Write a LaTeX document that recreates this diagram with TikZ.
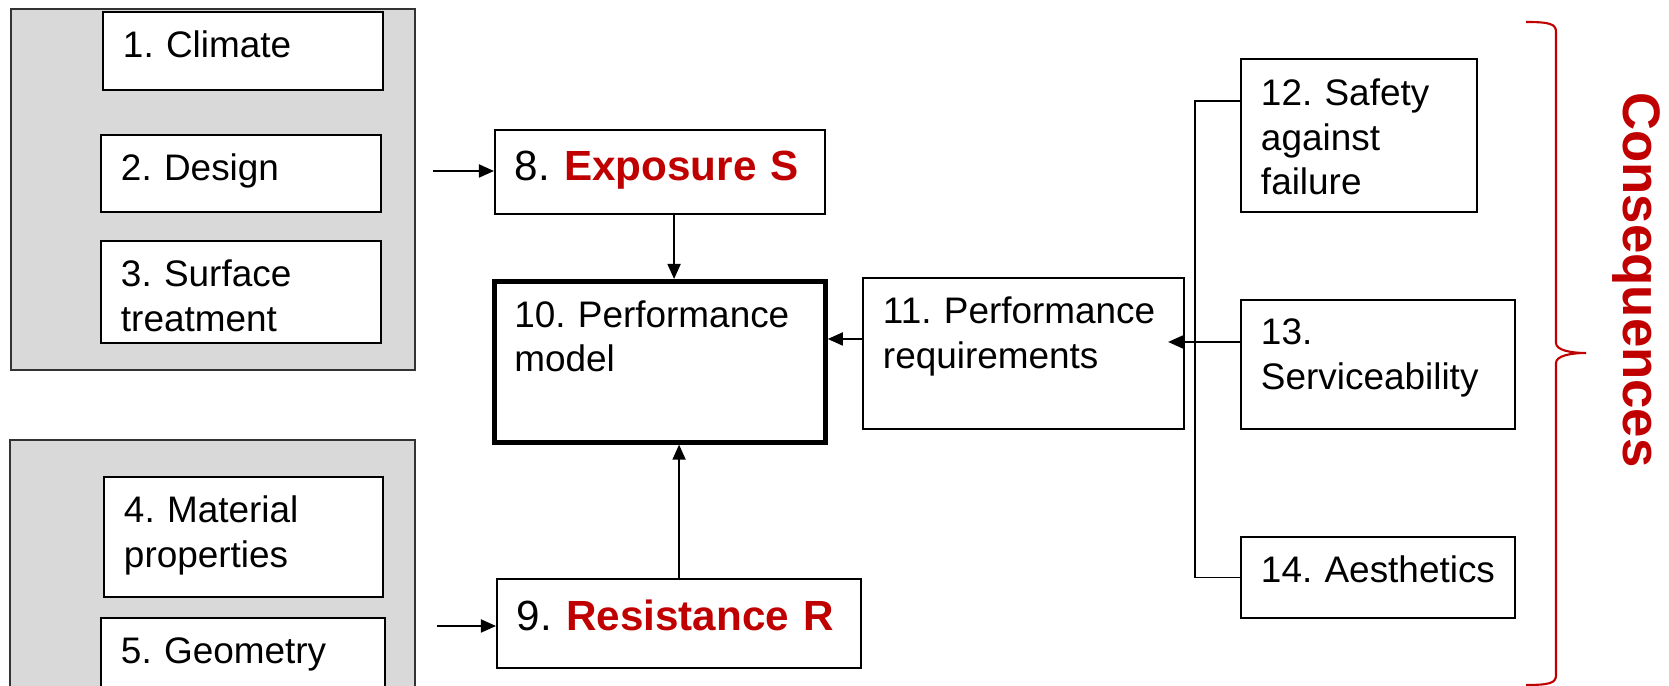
\documentclass[tikz,border=0pt]{standalone}
\usepackage{fontspec}
\setmainfont{Liberation Sans}
\usepackage{tikz}
\usetikzlibrary{arrows.meta, calc, positioning}
\usepackage{xcolor}
\definecolor{darkred}{HTML}{C00000}
\definecolor{panelgray}{HTML}{D9D9D9}
\frenchspacing
\hyphenpenalty=10000
\exhyphenpenalty=10000

\begin{document}
\begin{tikzpicture}[x=0.01cm, y=-0.01cm,
    box/.style={draw, line width=0.55pt, fill=white, anchor=north west, align=left,
        inner xsep=0.2cm, inner ysep=0pt, text height=0.46cm,
        font=\fontsize{10.5}{12.6}\selectfont},
    big/.style={font=\fontsize{12}{14.4}\selectfont},
    panel/.style={draw=black!80, line width=0.5pt, fill=panelgray},
    arr/.style={-{Triangle[length=1.5mm, width=1.3mm]}, line width=0.5pt}]
    \useasboundingbox (0,0) rectangle (1669,686);

    % exposure factors
    \draw[panel] (11,9) rectangle (415,370);
    \node[box, text width=2.40cm, text depth=0.32cm] (clim) at (102,11) {1. Climate};
    \node[box, text width=2.40cm, text depth=0.31cm] (desg) at (100,134) {2. Design};
    \node[box, text width=2.40cm, text depth=0.56cm] (surf) at (100,240) {3. Surface\\treatment};

    % resistance factors
    \draw[panel] (10,440) rectangle (415,720);
    \node[box, text width=2.39cm, text depth=0.74cm] (matl) at (103,476) {4. Material\\properties};
    \node[box, text width=2.44cm, text depth=0.60cm] (geom) at (100,617) {5. Geometry};

    % S, R and the model
    \node[box, big, text width=2.90cm, text height=0.51cm, text depth=0.33cm] (expo) at (494,129)
        {8. \textcolor{darkred}{\textbf{Exposure S}}};
    \node[box, line width=1.3pt, text width=2.91cm, text depth=1.15cm] (perf) at (492,279)
        {10. Performance\\model};
    \node[box, big, text width=3.24cm, text height=0.52cm, text depth=0.37cm] (resi) at (496,578)
        {9. \textcolor{darkred}{\textbf{Resistance R}}};

    % requirements and consequences
    \node[box, text width=2.81cm, text depth=1.05cm] (preq) at (862,277) {11. Performance\\requirements};
    \node[box, text width=1.96cm, text height=0.47cm, text depth=1.06cm] (safe) at (1240,58) {12. Safety\\against\\failure};
    \node[box, text width=2.34cm, text height=0.45cm, text depth=0.84cm] (serv) at (1240,299) {13.\\Serviceability};
    \node[box, text width=2.34cm, text depth=0.35cm] (aest) at (1240,536) {14. Aesthetics};

    % arrows
    \coordinate (inS) at (433,171);
    \coordinate (inR) at (437,626);
    \draw[arr] (inS) -- (inS -| expo.west);
    \draw[arr] (inR) -- (inR -| resi.west);
    \draw[arr] ([xshift=0.14cm]expo.south) -- ([xshift=0.14cm]expo.south |- perf.north);
    \draw[arr] (resi.north) -- (resi.north |- perf.south);
    \draw[arr] ([yshift=0.145cm]preq.west) -- ([yshift=0.145cm]preq.west -| perf.east);
    \draw[arr, shorten >=-0.17cm] ([yshift=0.225cm]serv.west) -- ([yshift=0.225cm]serv.west -| preq.east);
    \draw[line width=0.5pt] ([yshift=0.345cm]safe.west) -- ++(-45,0) |- (aest.west);

    % brace
    \draw[darkred, line width=0.6pt] (1526,22) .. controls (1550,22) and (1556,24) .. (1556,32)
        -- (1556,343) .. controls (1556,350) and (1570,353) .. (1586,353)
        .. controls (1570,353) and (1556,356) .. (1556,363)
        -- (1556,675) .. controls (1556,683) and (1550,685) .. (1526,685);
    \node[rotate=-90, anchor=base, text=darkred, font=\fontsize{15}{18}\selectfont\bfseries] (cons) at (1623,280) {Consequences};
\end{tikzpicture}
\end{document}
